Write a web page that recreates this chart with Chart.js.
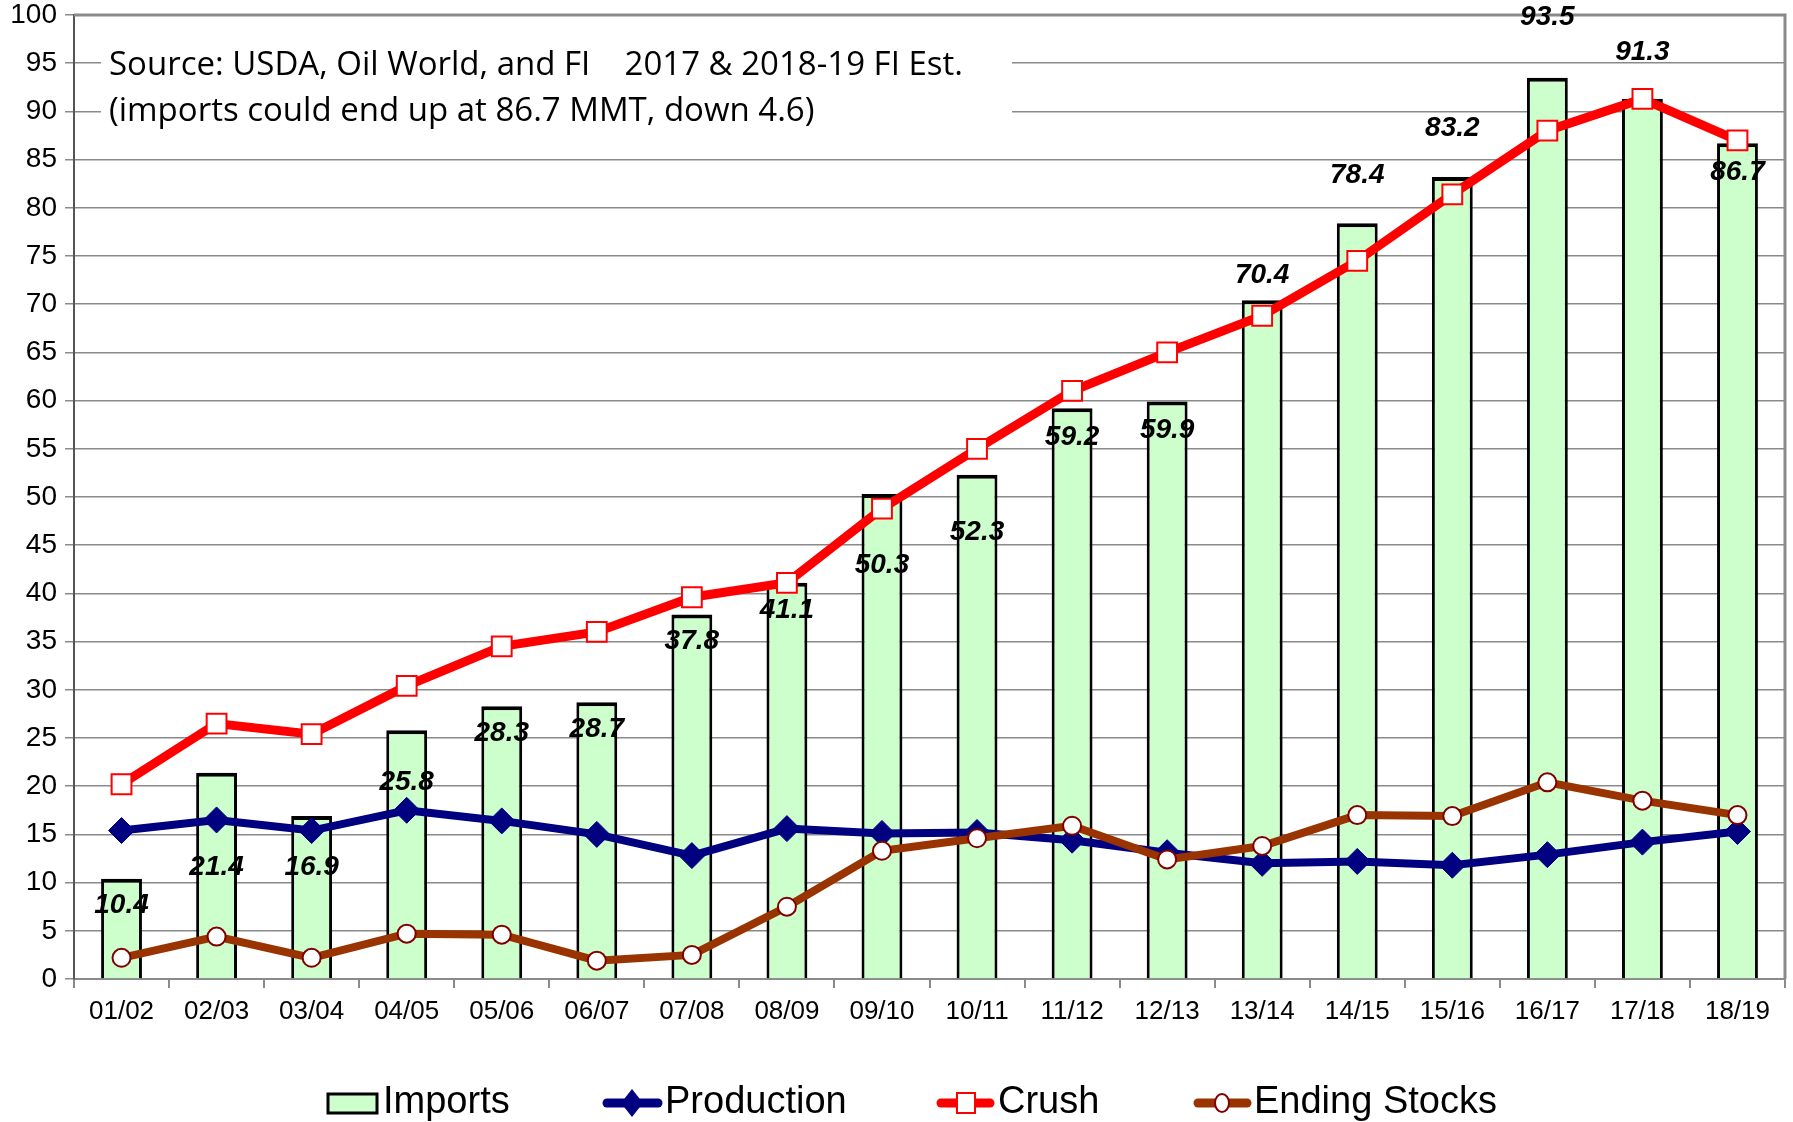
<!DOCTYPE html>
<html>
<head>
<meta charset="utf-8">
<script src="https://cdn.jsdelivr.net/npm/chart.js@4.4.1/dist/chart.umd.min.js"></script>
<style>
  html, body { margin: 0; padding: 0; background: #fff; }
</style>
</head>
<body>
<canvas id="chart" width="1793" height="1122"></canvas>
<script>
const seasons = ['01/02', '02/03', '03/04', '04/05', '05/06', '06/07', '07/08', '08/09', '09/10',
  '10/11', '11/12', '12/13', '13/14', '14/15', '15/16', '16/17', '17/18', '18/19'];
const imports = [10.4, 21.4, 16.9, 25.8, 28.3, 28.7, 37.8, 41.1, 50.3, 52.3, 59.2, 59.9, 70.4, 78.4, 83.2, 93.5, 91.3, 86.7];
const production = [15.4, 16.5, 15.4, 17.5, 16.4, 15.0, 12.8, 15.6, 15.1, 15.2, 14.4, 13.1, 12.0, 12.2, 11.8, 12.9, 14.2, 15.3];
const crush = [20.2, 26.5, 25.4, 30.4, 34.5, 36.0, 39.6, 41.1, 48.8, 55.0, 61.0, 65.0, 68.8, 74.5, 81.4, 88.0, 91.3, 87.0];
const endingStocks = [2.2, 4.4, 2.2, 4.7, 4.6, 1.9, 2.5, 7.5, 13.3, 14.6, 15.9, 12.4, 13.8, 17.0, 16.9, 20.4, 18.5, 17.0];
const sourceNote = [
  'Source: USDA, Oil World, and FI    2017 & 2018-19 FI Est.',
  '(imports could end up at 86.7 MMT, down 4.6)'
];

const FONT = "'Liberation Sans', Arial, sans-serif";
const GRID = '#8a8a8a';

// where each imports label sits relative to the bar top (in axis units), as placed in the original
const importLabelShift = [-2.8, -9.8, -5.3, -5.4, -2.8, -2.8, -2.8, -2.9, -7.4, -6.0, -3.0, -3.0, 2.6, 5.0, 5.1, 6.3, 4.8, -3.0];

const frame = {
  id: 'frame',
  beforeDatasetsDraw: chart => {
    const ctx = chart.ctx;
    const a = chart.chartArea;
    ctx.save();
    // plot border top / right
    ctx.strokeStyle = GRID;
    ctx.lineWidth = 3;
    ctx.beginPath();
    ctx.moveTo(a.left, a.top);
    ctx.lineTo(a.right, a.top);
    ctx.lineTo(a.right, a.bottom);
    ctx.stroke();
    // source note box
    ctx.fillStyle = '#fff';
    ctx.fillRect(a.left + 27, a.top + 32, 911, 94);
    ctx.fillStyle = '#000';
    ctx.font = "33px 'Open Sans', sans-serif";
    ctx.textBaseline = 'middle';
    ctx.fillText(sourceNote[0], a.left + 35, a.top + 51, 858);
    ctx.fillText(sourceNote[1], a.left + 35, a.top + 97);
    ctx.restore();
  }
};

const barLabels = {
  id: 'barLabels',
  afterDatasetsDraw: chart => {
    const ctx = chart.ctx;
    const yAxis = chart.scales['y'];
    const meta = chart.getDatasetMeta(0);
    ctx.save();
    ctx.font = "italic bold 28px " + FONT;
    ctx.fillStyle = '#000';
    ctx.textAlign = 'center';
    ctx.textBaseline = 'middle';
    meta.data.forEach((bar, i) => {
      const y = yAxis.getPixelForValue(imports[i] + importLabelShift[i]);
      ctx.fillText(imports[i].toFixed(1), bar.x, y);
    });
    ctx.restore();
  }
};

const legendBox = {
  id: 'legendBox',
  afterDraw: chart => {
    const ctx = chart.ctx;
    const y = 1103;
    ctx.save();
    // Imports
    ctx.fillStyle = '#CCFFCC';
    ctx.fillRect(328, y - 9, 49, 19);
    ctx.strokeStyle = '#000';
    ctx.lineWidth = 3;
    ctx.strokeRect(328, y - 9, 49, 19);

    const lineItem = (x0, x1, color) => {
      ctx.strokeStyle = color;
      ctx.lineWidth = 9;
      ctx.lineCap = 'round';
      ctx.beginPath();
      ctx.moveTo(x0, y);
      ctx.lineTo(x1, y);
      ctx.stroke();
    };
    // Production
    lineItem(607, 658, '#000080');
    ctx.fillStyle = '#000080';
    ctx.beginPath();
    ctx.moveTo(632, y - 14); ctx.lineTo(643, y); ctx.lineTo(632, y + 14); ctx.lineTo(621, y);
    ctx.closePath();
    ctx.fill();
    // Crush
    lineItem(941, 990, '#FF0000');
    ctx.fillStyle = '#fff';
    ctx.fillRect(957, y - 10, 18, 20);
    ctx.strokeStyle = '#FF0000';
    ctx.lineWidth = 2;
    ctx.strokeRect(957, y - 10, 18, 20);
    // Ending Stocks
    lineItem(1198, 1247, '#993300');
    ctx.fillStyle = '#fff';
    ctx.strokeStyle = '#800000';
    ctx.lineWidth = 2;
    ctx.beginPath();
    ctx.ellipse(1222, y, 7, 9, 0, 0, Math.PI * 2);
    ctx.fill();
    ctx.stroke();

    ctx.fillStyle = '#000';
    ctx.font = '38px ' + FONT;
    ctx.textBaseline = 'middle';
    ctx.fillText('Imports', 383, y);
    ctx.fillText('Production', 665, y);
    ctx.fillText('Crush', 998, y);
    ctx.fillText('Ending Stocks', 1254, y);
    ctx.restore();
  }
};

new Chart(document.getElementById('chart'), {
  type: 'bar',
  plugins: [frame, barLabels, legendBox],
  data: {
    labels: seasons,
    datasets: [{
      label: 'Imports',
      data: imports,
      order: 4,
      backgroundColor: '#CCFFCC',
      borderColor: '#000',
      borderWidth: { top: 4, left: 3, right: 3, bottom: 0 },
      borderSkipped: 'bottom',
      barPercentage: 0.43,
      categoryPercentage: 1
    }, {
      type: 'line',
      label: 'Production',
      data: production,
      order: 3,
      borderColor: '#000080',
      borderWidth: 8,
      pointStyle: 'rectRot',
      pointRadius: 13,
      pointBackgroundColor: '#000080',
      pointBorderColor: '#000080',
      pointBorderWidth: 1
    }, {
      type: 'line',
      label: 'Crush',
      data: crush,
      order: 1,
      borderColor: '#FF0000',
      borderWidth: 9,
      pointStyle: 'rect',
      pointRadius: 14,
      pointBackgroundColor: '#fff',
      pointBorderColor: '#FF0000',
      pointBorderWidth: 2
    }, {
      type: 'line',
      label: 'Ending Stocks',
      data: endingStocks,
      order: 2,
      borderColor: '#993300',
      borderWidth: 8,
      pointStyle: 'circle',
      pointRadius: 9,
      pointBackgroundColor: '#fff',
      pointBorderColor: '#800000',
      pointBorderWidth: 2
    }]
  },
  options: {
    responsive: false,
    animation: false,
    devicePixelRatio: 1,
    layout: {
      autoPadding: false,
      padding: { left: 0, top: 15, right: 8, bottom: 83 }
    },
    plugins: {
      legend: { display: false },
      tooltip: { enabled: false },
      title: { display: false }
    },
    scales: {
      x: {
        afterFit: scale => {
          scale.height = 60;
          scale.paddingLeft = 0;
          scale.paddingRight = 0;
        },
        grid: {
          offset: true,
          drawOnChartArea: false,
          drawTicks: true,
          tickLength: 9,
          color: GRID,
          lineWidth: 2
        },
        border: { color: GRID, width: 2 },
        ticks: {
          color: '#000',
          padding: 8,
          maxRotation: 0,
          font: { family: FONT, size: 26 }
        }
      },
      y: {
        min: 0,
        max: 100,
        afterFit: scale => {
          scale.width = 74;
          scale.paddingTop = 0;
          scale.paddingBottom = 0;
        },
        grid: {
          color: GRID,
          lineWidth: 1.5,
          tickLength: 9
        },
        border: { color: '#555', width: 2 },
        ticks: {
          stepSize: 5,
          color: '#000',
          padding: 8,
          font: { family: FONT, size: 28 }
        }
      }
    }
  }
});
</script>
</body>
</html>
